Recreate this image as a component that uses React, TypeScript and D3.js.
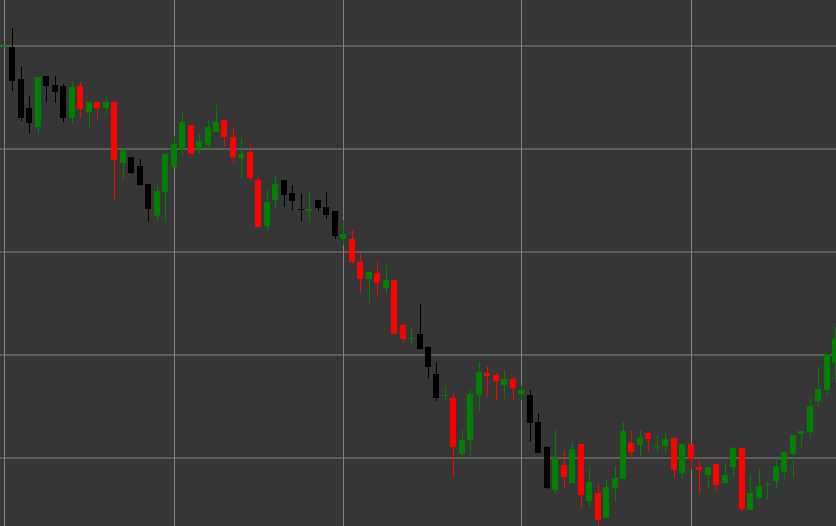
import React from "react";
import * as d3 from "d3";

const openV = [99.93,99.91,96.74,93.92,92.08,97.06,96.16,96.06,92.95,96.09,93.54,94.51,93.92,94.51,88.58,89.17,88.29,86.54,83.44,85.83,88.20,89.97,92.27,89.97,90.36,91.65,92.76,91.11,89.07,89.71,86.99,82.47,85.02,86.93,85.67,84.18,83.92,84.99,84.31,83.95,81.20,81.20,78.97,77.32,77.90,76.45,77.22,72.85,71.50,71.98,70.72,68.10,65.97,65.76,60.34,61.69,66.06,68.19,68.00,67.03,67.61,66.15,66.06,63.44,61.01,56.83,59.26,57.51,61.30,55.76,56.54,54.11,57.03,57.90,61.40,61.20,62.37,61.06,61.10,61.88,58.48,61.30,59.07,58.29,59.36,57.51,59.07,60.91,54.89,56.06,57.33,57.71,58.58,60.33,62.27,62.46,65.47,66.54,69.16];
const highV = [100.02,101.69,97.91,95.12,96.99,97.06,97.06,96.25,96.48,96.48,94.51,94.51,95.09,94.51,90.07,89.17,88.97,86.54,86.64,89.46,91.23,93.54,92.27,91.40,92.76,94.22,92.76,92.08,91.01,90.53,87.22,86.06,87.42,86.93,86.45,85.57,85.77,84.99,85.77,83.95,83.08,82.08,79.84,78.00,78.97,78.68,77.22,73.05,72.66,74.89,70.82,69.26,66.93,66.25,62.66,66.54,69.26,68.87,68.19,68.48,67.90,67.03,66.54,64.31,61.01,62.66,60.62,61.40,61.30,59.16,57.51,57.90,59.16,63.44,62.56,62.66,62.37,62.17,62.46,61.88,61.30,61.30,59.75,59.12,59.36,59.36,61.11,60.91,58.39,58.87,57.61,59.84,60.52,62.17,62.56,65.76,68.87,70.04,72.72];
const lowV = [99.90,95.60,92.72,91.55,91.40,94.56,94.47,92.62,92.40,93.01,91.94,92.91,93.37,84.99,86.93,87.52,86.48,82.93,82.98,82.93,88.20,89.46,89.46,89.46,89.97,91.65,90.20,88.58,87.13,86.89,82.43,81.98,84.27,84.37,84.08,83.01,82.91,83.95,83.15,81.20,80.65,78.78,75.96,74.99,75.57,75.96,71.98,71.20,71.01,70.52,67.71,65.47,65.47,58.15,59.92,59.90,64.50,65.96,65.57,65.67,65.57,65.57,61.59,60.42,56.93,56.44,57.03,57.51,55.08,55.18,53.37,54.11,55.67,57.90,59.94,60.13,60.52,60.42,60.42,57.90,57.90,58.87,56.54,56.99,56.73,57.51,58.09,54.79,54.89,55.86,55.86,56.93,57.90,58.00,61.01,61.88,64.89,65.96,67.22];
const closeV = [100.00,96.57,92.95,92.47,96.99,96.09,95.51,92.95,95.96,93.83,94.51,93.92,94.51,88.87,89.83,87.61,86.48,84.15,85.94,89.46,90.43,92.56,89.46,90.78,92.08,92.56,91.11,89.20,89.44,87.13,82.43,84.80,86.54,85.53,84.92,84.02,84.18,84.24,83.53,81.50,81.69,78.97,77.32,78.00,76.93,77.22,71.98,71.49,71.60,70.52,68.78,65.76,66.07,61.01,61.76,66.15,68.29,67.90,67.42,67.61,66.74,66.54,63.34,60.42,57.03,59.97,58.09,60.81,56.35,57.61,53.98,57.12,58.00,62.56,60.52,61.98,61.78,61.15,61.78,58.77,61.30,59.84,58.77,59.12,57.32,58.35,60.91,54.99,56.54,57.22,57.43,59.16,60.52,62.17,62.56,64.99,66.64,70.04,71.49];
// G = green, R = red, K = black
const kindV = "GKKKGKKKGRGRGRGKKKGGGGRGGGRRGRRGGKKKGKKKGRRGRGRRGKKKGRGGGRRGRGKKKGRGRGRGGGRGRGGRGRRGRGGRGGGGGGGGGGG";
const hGridValues = [100, 90, 80, 70, 60];
const vGridIndices = [0, 20, 40, 61, 81];

const kindColor: Record<string, string> = { G: "#008000", R: "#ff0000", K: "#000000" };

export default function App() {
  const W = 836, H = 526;
  const n = openV.length;
  const x = d3.scaleLinear().domain([0, n - 1]).range([4, 835]);
  const y = d3.scaleLinear().domain([60, 100]).range([457.7, 45.7]);
  const cx = (i: number) => Math.round(x(i));

  return (
    <svg width={W} height={H} style={{ position: "fixed", left: 0, top: 0, display: "block" }}>
      <rect x={0} y={0} width={W} height={H} fill="#363636" />
      {hGridValues.map((v) => (
        <line key={"h" + v} x1={0} x2={W} y1={Math.round(y(v))} y2={Math.round(y(v))} stroke="#5b5b5b" strokeWidth={2} />
      ))}
      {vGridIndices.map((i) => (
        <line key={"v" + i} x1={cx(i) + 0.5} x2={cx(i) + 0.5} y1={0} y2={H} stroke="#808080" strokeWidth={1} />
      ))}
      {openV.map((o, i) => {
        const c = closeV[i];
        const col = kindColor[kindV[i]];
        const xc = cx(i);
        const top = Math.round(y(Math.max(o, c)));
        const bot = Math.round(y(Math.min(o, c)));
        const hy = Math.round(y(highV[i]));
        const ly = Math.round(y(lowV[i]));
        return (
          <g key={i}>
            <line x1={xc + 0.5} x2={xc + 0.5} y1={hy} y2={ly} stroke={col} strokeWidth={1} />
            <rect x={xc - 3} y={top} width={6} height={Math.max(1, bot - top)} fill={col} />
          </g>
        );
      })}
    </svg>
  );
}
